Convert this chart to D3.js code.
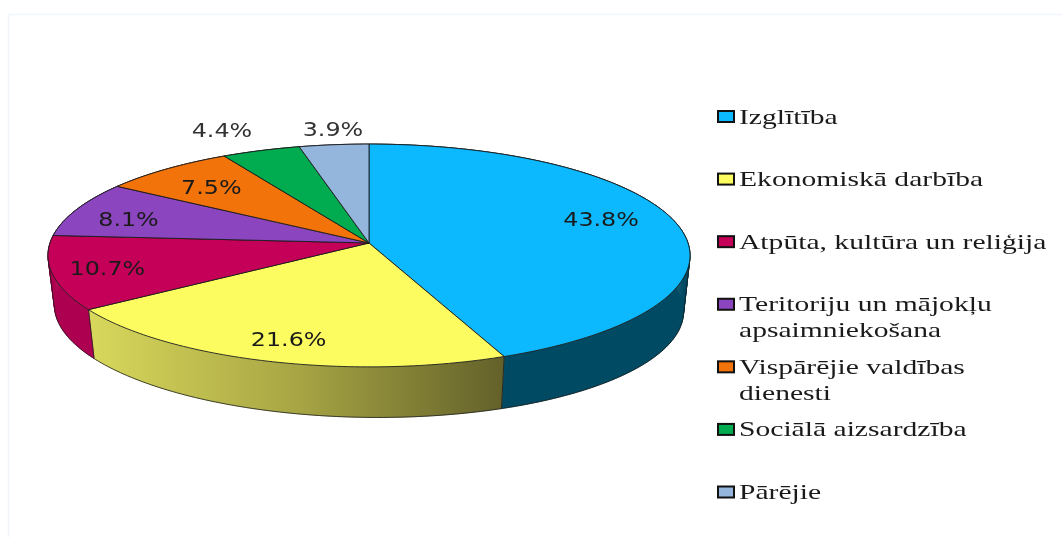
<!DOCTYPE html>
<html>
<head>
<meta charset="utf-8">
<script src="https://d3js.org/d3.v7.min.js"></script>
<style>
html, body { margin: 0; padding: 0; background: #fff; }
svg { display: block; }
text { filter: blur(0.45px); }
</style>
</head>
<body>
<svg id="chart"></svg>
<script>
// data
var categories = ["Izglītība", "Ekonomiskā darbība", "Atpūta, kultūra un reliģija",
  "Teritoriju un mājokļu\napsaimniekošana", "Vispārējie valdības\ndienesti",
  "Sociālā aizsardzība", "Pārējie"];
var shares = [43.8, 21.6, 10.7, 8.1, 7.5, 4.4, 3.9];
var topColors = ["#0cb9ff", "#fcfc60", "#c50059", "#8b45be", "#f2730a", "#00ac4f", "#94b5dc"];
var wallColors = ["#004a63", "url(#yellowWall)", "#ae0050", "#5c2d80", "#a34d06", "#007335", "#63799a"];

var width = 1062, height = 537;

var svg = d3.select("#chart")
  .attr("width", width)
  .attr("height", height);

// faint frame of the pasted picture
svg.append("path")
  .attr("d", "M8.5,537V14.5H1062")
  .attr("fill", "none")
  .attr("stroke", "#f1f5fa")
  .attr("stroke-width", 1.5);

// yellow side has a light to dark gradient
var grad = svg.append("defs").append("linearGradient")
  .attr("id", "yellowWall")
  .attr("gradientUnits", "userSpaceOnUse")
  .attr("x1", 89).attr("x2", 501).attr("y1", 0).attr("y2", 0);
grad.append("stop").attr("offset", "0%").attr("stop-color", "#d8d85c");
grad.append("stop").attr("offset", "50%").attr("stop-color", "#a8a644");
grad.append("stop").attr("offset", "100%").attr("stop-color", "#64622a");

// pie seen in perspective: unit circle goes through a small projective map
var cx = 369, cy = 243, rx = 319, ry = 110, persp = 0.112;
var wallDrop = 53, wallShrink = 0.98, wallTilt = 0.01;

function project(angle, r, drop, scale) {
  var u = Math.sin(angle) * r, v = -Math.cos(angle) * r;
  var w = 1 - persp * v;
  var x = cx + scale * rx * u / w;
  return [x, cy + drop + scale * ry * v / w + (drop ? (x - cx) * wallTilt : 0)];
}

var slices = d3.pie().sort(null).value(function(d) { return d; })(shares);
var line = d3.line();

function rim(d, drop, scale) {
  var n = Math.max(4, Math.ceil((d.endAngle - d.startAngle) * 60));
  return d3.range(n + 1).map(function(i) {
    return project(d.startAngle + (d.endAngle - d.startAngle) * i / n, 1, drop, scale);
  });
}

// side of a slice: small quads between top rim and bottom rim, so the
// straight silhouette at both ends of the pie gets filled too
function wallQuads(d) {
  var a = rim(d, 0, 1), b = rim(d, wallDrop, wallShrink);
  return d3.range(a.length - 1).map(function(i) {
    return line([a[i], a[i + 1], b[i + 1], b[i]]) + "Z";
  }).join("");
}

svg.selectAll("path.wall")
  .data(slices)
  .enter()
  .append("path")
  .attr("class", "wall")
  .attr("d", wallQuads)
  .attr("fill", function(d, i) { return wallColors[i]; })
  .attr("stroke", function(d, i) { return wallColors[i]; })
  .attr("stroke-width", 0.6);

// outline of the whole solid, seams between the sides
var allRim = [{startAngle: 0, endAngle: 2 * Math.PI}];
svg.append("path")
  .attr("d", line(d3.polygonHull(rim(allRim[0], 0, 1).concat(rim(allRim[0], wallDrop, wallShrink)))) + "Z")
  .attr("fill", "none")
  .attr("stroke", "#1c1c1c")
  .attr("stroke-width", 0.8);

svg.selectAll("path.seam")
  .data(slices)
  .enter()
  .append("path")
  .attr("class", "seam")
  .attr("d", function(d) {
    return line([project(d.startAngle, 1, 0, 1), project(d.startAngle, 1, wallDrop, wallShrink)]);
  })
  .attr("stroke", "#1c1c1c")
  .attr("stroke-width", 0.8);

svg.selectAll("path.top")
  .data(slices)
  .enter()
  .append("path")
  .attr("class", "top")
  .attr("d", function(d) {
    return line([[cx, cy]].concat(rim(d, 0, 1))) + "Z";
  })
  .attr("fill", function(d, i) { return topColors[i]; })
  .attr("stroke", "#1c1c1c")
  .attr("stroke-width", 0.9)
  .attr("stroke-linejoin", "round");

// label placement: inside labels sit at 0.78 of the radius, the two small
// slices carry theirs outside the rim
var labelShift = [[-8, -8], [-3, 6], [-16, 2], [-11, 2], [3, 2], [-39, -21], [-1, -16]];

svg.selectAll("text.pct")
  .data(slices)
  .enter()
  .append("text")
  .attr("class", "pct")
  .attr("transform", function(d, i) {
    var mid = (d.startAngle + d.endAngle) / 2;
    var p = project(mid, i > 4 ? 1 : 0.78, 0, 1);
    return "translate(" + (p[0] + labelShift[i][0]) + "," + (p[1] + labelShift[i][1]) + ") scale(1.19,1)";
  })
  .attr("text-anchor", "middle")
  .attr("dy", "0.36em")
  .attr("font-family", "'DejaVu Sans', sans-serif")
  .attr("font-size", 20)
  .attr("fill", function(d, i) { return i > 4 ? "#333" : "#1a1a1a"; })
  .text(function(d) { return d.data.toFixed(1) + "%"; });

// legend
var legendY = d3.scalePoint().domain(categories).range([116.5, 492]);

var legend = svg.selectAll("g.legend")
  .data(categories)
  .enter()
  .append("g")
  .attr("class", "legend")
  .attr("transform", function(d) { return "translate(717," + legendY(d) + ")"; });

legend.append("rect")
  .attr("x", 1).attr("y", -5.5)
  .attr("width", 16).attr("height", 11)
  .attr("fill", function(d, i) { return topColors[i]; })
  .attr("stroke", "#111")
  .attr("stroke-width", 2);

legend.each(function(d) {
  d3.select(this).selectAll("text")
    .data(d.split("\n"))
    .enter()
    .append("text")
    .attr("transform", function(t, j) { return "translate(22," + (7 + j * 26) + ") scale(1.41,1)"; })
    .attr("font-family", "'Liberation Serif', serif")
    .attr("font-size", 21)
    .attr("fill", "#1a1a1a")
    .text(function(t) { return t; });
});
</script>
</body>
</html>
